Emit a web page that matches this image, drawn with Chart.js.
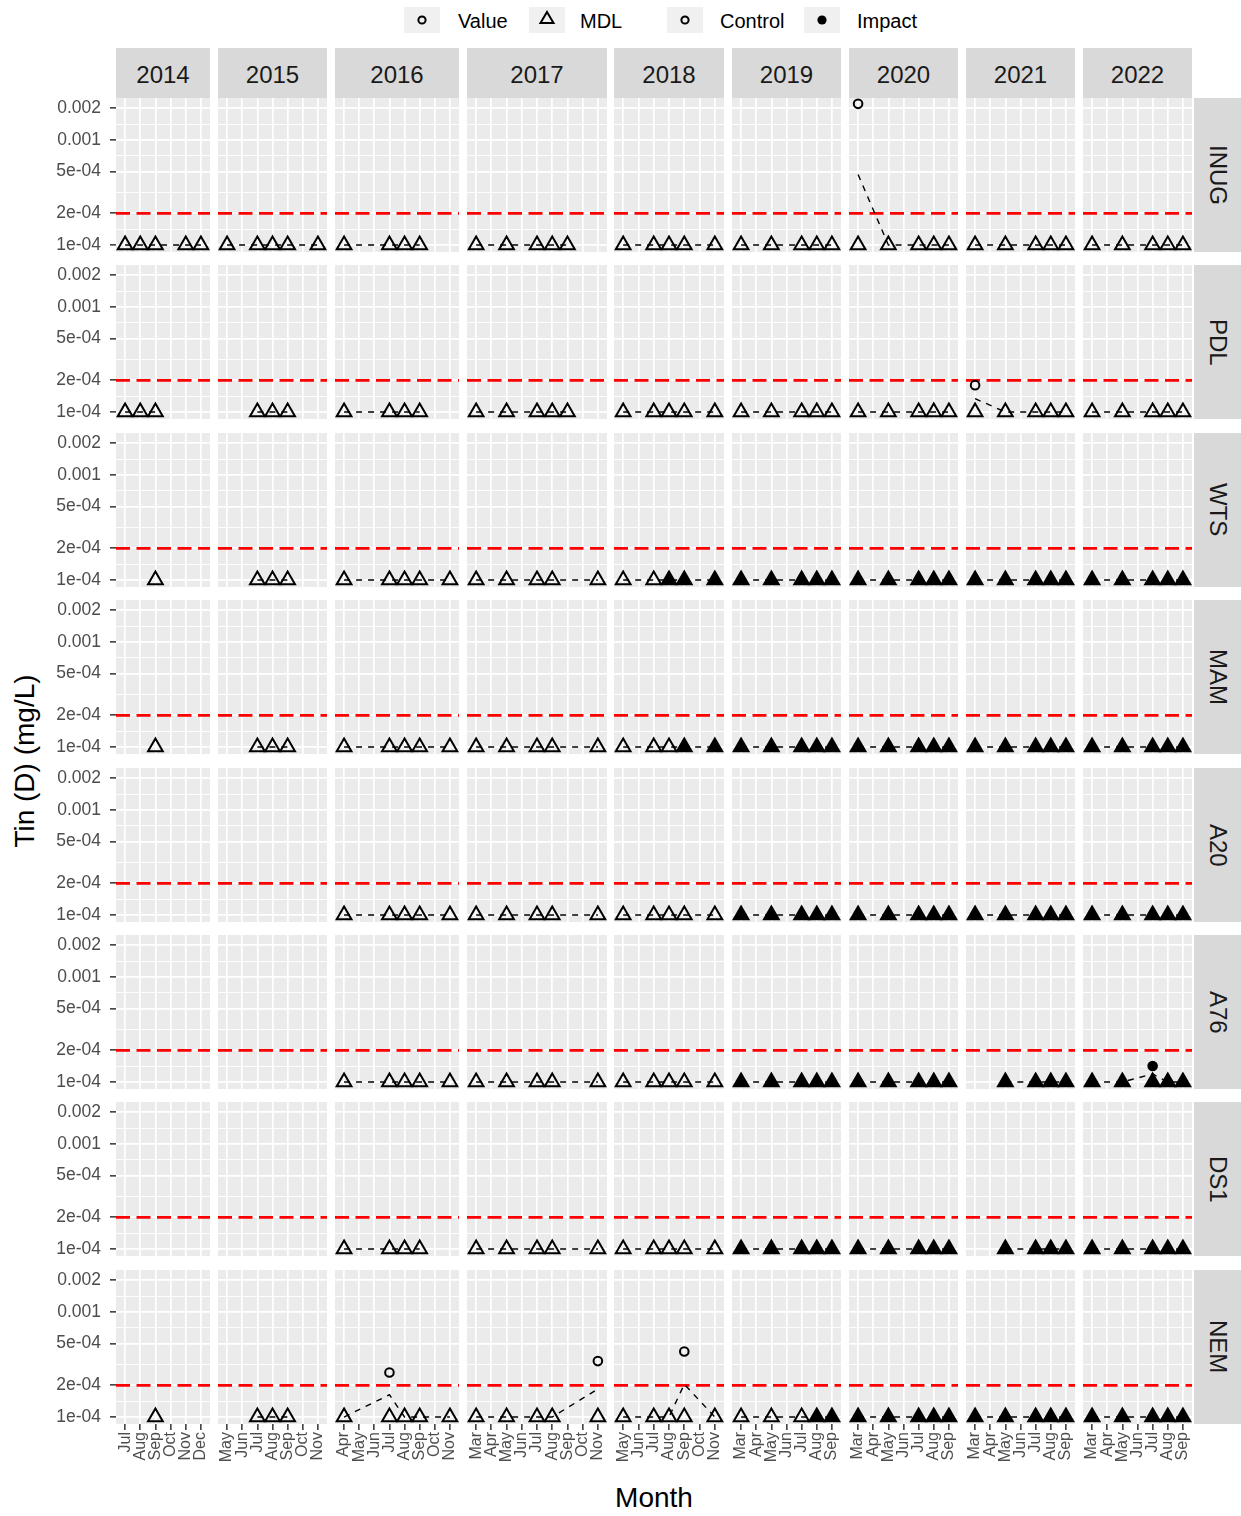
<!DOCTYPE html>
<html>
<head>
<meta charset="utf-8">
<title>Tin (D) by station and year</title>
<script src="https://cdn.jsdelivr.net/npm/chart.js@4.4.1/dist/chart.umd.min.js"></script>
<style>
  html, body { margin: 0; background: #fff; }
  #fig { position: relative; width: 1241px; height: 1516px; overflow: hidden; font-family: "Liberation Sans", Arial, sans-serif; }
  #fig canvas { position: absolute; }
  .strip { position: absolute; box-sizing: border-box; background: #d9d9d9; color: #1a1a1a; font-size: 24px; display: flex; align-items: center; justify-content: center; }
  .strip.top { padding-top: 4px; }
  .strip.side span { writing-mode: vertical-rl; }
  .key { position: absolute; top: 7px; width: 36px; height: 26px; background: #f0f0f0; }
  .key svg { display: block; }
  .ltxt { position: absolute; top: 9px; font-size: 20px; line-height: 24px; color: #000; }
  .title { position: absolute; font-size: 28px; color: #000; white-space: nowrap; transform: translate(-50%, -50%); }
</style>
</head>
<body>
<div id="fig">
  <div class="key" style="left:404px"><svg width="36" height="26"><circle cx="18" cy="13" r="3.6" fill="none" stroke="#000" stroke-width="2"/></svg></div>
  <div class="ltxt" style="left:458px">Value</div>
  <div class="key" style="left:529px"><svg width="36" height="26"><polygon points="18,5 24.5,16 11.5,16" fill="none" stroke="#000" stroke-width="2"/></svg></div>
  <div class="ltxt" style="left:580px">MDL</div>
  <div class="key" style="left:667px"><svg width="36" height="26"><circle cx="18" cy="13" r="3.6" fill="none" stroke="#000" stroke-width="2"/></svg></div>
  <div class="ltxt" style="left:720px">Control</div>
  <div class="key" style="left:804px"><svg width="36" height="26"><circle cx="18" cy="13" r="4.6" fill="#000"/></svg></div>
  <div class="ltxt" style="left:857px">Impact</div>
  <div class="title" style="left:25px;top:761px;transform:translate(-50%,-50%) rotate(-90deg)">Tin (D) (mg/L)</div>
  <div class="title" style="left:654px;top:1498px">Month</div>
</div>
<script>
// facets
var YEARS = ["2014", "2015", "2016", "2017", "2018", "2019", "2020", "2021", "2022"];
var MONTHS = [
  ["Jul", "Aug", "Sep", "Oct", "Nov", "Dec"],
  ["May", "Jun", "Jul", "Aug", "Sep", "Oct", "Nov"],
  ["Apr", "May", "Jun", "Jul", "Aug", "Sep", "Oct", "Nov"],
  ["Mar", "Apr", "May", "Jun", "Jul", "Aug", "Sep", "Oct", "Nov"],
  ["May", "Jun", "Jul", "Aug", "Sep", "Oct", "Nov"],
  ["Mar", "Apr", "May", "Jun", "Jul", "Aug", "Sep"],
  ["Mar", "Apr", "May", "Jun", "Jul", "Aug", "Sep"],
  ["Mar", "Apr", "May", "Jun", "Jul", "Aug", "Sep"],
  ["Mar", "Apr", "May", "Jun", "Jul", "Aug", "Sep"]
];
var STATIONS = ["INUG", "PDL", "WTS", "MAM", "A20", "A76", "DS1", "NEM"];

var MDL_VALUE = 1e-4;   // results below detection plotted at the MDL
var GUIDELINE = 2e-4;   // red dashed line
var YTICKS = [1e-4, 2e-4, 5e-4, 1e-3, 2e-3];
var YLABELS = ["1e-04", "2e-04", "5e-04", "0.001", "0.002"];

// months with a result < MDL, one string per year (2014..2022); "*" = impact period
var INUG = ["Jul Aug Sep Nov Dec", "May Jul Aug Sep Nov", "Apr Jul Aug Sep", "Mar May Jul Aug Sep", "May Jul Aug Sep Nov",
  "Mar May Jul Aug Sep", "Mar May Jul Aug Sep", "Mar May Jul Aug Sep", "Mar May Jul Aug Sep"];
var PDL = ["Jul Aug Sep", "Jul Aug Sep", "Apr Jul Aug Sep", "Mar May Jul Aug Sep", "May Jul Aug Sep Nov",
  "Mar May Jul Aug Sep", "Mar May Jul Aug Sep", "Mar May Jul Aug Sep", "Mar May Jul Aug Sep"];
var WTS = ["Sep", "Jul Aug Sep", "Apr Jul Aug Sep Nov", "Mar May Jul Aug Nov", "May Jul Aug* Sep* Nov*",
  "Mar* May* Jul* Aug* Sep*", "Mar* May* Jul* Aug* Sep*", "Mar* May* Jul* Aug* Sep*", "Mar* May* Jul* Aug* Sep*"];
var MAM = ["Sep", "Jul Aug Sep", "Apr Jul Aug Sep Nov", "Mar May Jul Aug Nov", "May Jul Aug Sep* Nov*",
  "Mar* May* Jul* Aug* Sep*", "Mar* May* Jul* Aug* Sep*", "Mar* May* Jul* Aug* Sep*", "Mar* May* Jul* Aug* Sep*"];
var A20 = ["", "", "Apr Jul Aug Sep Nov", "Mar May Jul Aug Nov", "May Jul Aug Sep Nov",
  "Mar* May* Jul* Aug* Sep*", "Mar* May* Jul* Aug* Sep*", "Mar* May* Jul* Aug* Sep*", "Mar* May* Jul* Aug* Sep*"];
var A76 = ["", "", "Apr Jul Aug Sep Nov", "Mar May Jul Aug Nov", "May Jul Aug Sep Nov",
  "Mar* May* Jul* Aug* Sep*", "Mar* May* Jul* Aug* Sep*", "May* Jul* Aug* Sep*", "Mar* May* Jul* Aug* Sep*"];
var DS1 = ["", "", "Apr Jul Aug Sep", "Mar May Jul Aug Nov", "May Jul Aug Sep Nov",
  "Mar* May* Jul* Aug* Sep*", "Mar* May* Jul* Aug* Sep*", "May* Jul* Aug* Sep*", "Mar* May* Jul* Aug* Sep*"];
var NEM = ["Sep", "Jul Aug Sep", "Apr Jul Aug Sep Nov", "Mar May Jul Aug Nov", "May Jul Aug Sep Nov",
  "Mar May Jul Aug* Sep*", "Mar* May* Jul* Aug* Sep*", "Mar* May* Jul* Aug* Sep*", "Mar* May* Jul* Aug* Sep*"];
var SITE_MDL = [INUG, PDL, WTS, MAM, A20, A76, DS1, NEM];

// detected values: station, year, month, mg/L, group
var DETECTS = [
  ["INUG", "2020", "Mar", 0.0022, "Control"],
  ["PDL", "2021", "Mar", 1.8e-4, "Control"],
  ["A76", "2022", "Jul", 1.42e-4, "Impact"],
  ["NEM", "2016", "Jul", 2.65e-4, "Control"],
  ["NEM", "2017", "Nov", 3.4e-4, "Control"],
  ["NEM", "2018", "Sep", 4.2e-4, "Control"]
];

(function () {
  var fig = document.getElementById("fig");
  Chart.defaults.font.family = '"Liberation Sans", Arial, sans-serif';

  // layout (px)
  var X0 = 116, X1 = 1192, G = 7.6, Y0 = 98, PITCH = 167.4, PH = 154;
  var AXIS_W = 66, AXIS_H = 78;
  var YMIN = 8.58e-5, YMAX = 2.5e-3;

  // minor breaks halfway between majors on the log scale
  var YGRID = YTICKS.slice();
  for (var i = 0; i < YTICKS.length - 1; i++) YGRID.push(Math.sqrt(YTICKS[i] * YTICKS[i + 1]));
  function isMajor(v) { return YTICKS.indexOf(v) >= 0; }

  var units = 0;
  MONTHS.forEach(function (m) { units += m.length + 0.2; });
  var U = (X1 - X0 - G * (YEARS.length - 1)) / units;
  var colX = [], colW = [], x = X0;
  MONTHS.forEach(function (m) { colX.push(x); colW.push((m.length + 0.2) * U); x += (m.length + 0.2) * U + G; });

  function div(cls, css, text) {
    var d = document.createElement("div");
    d.className = cls;
    d.style.cssText = css;
    if (text) d.innerHTML = "<span>" + text + "</span>";
    fig.appendChild(d);
    return d;
  }

  // strips
  YEARS.forEach(function (y, c) {
    var l = Math.round(colX[c]), w = Math.round(colX[c] + colW[c]) - l;
    div("strip top", "left:" + l + "px;top:48px;width:" + w + "px;height:50px", y);
  });
  STATIONS.forEach(function (s, r) {
    div("strip side", "left:1194px;top:" + Math.round(Y0 + r * PITCH) + "px;width:47px;height:" + PH + "px", s);
  });

  function samplesFor(r, c) {
    var months = MONTHS[c], out = [];
    SITE_MDL[r][c].split(" ").forEach(function (tok) {
      if (!tok) return;
      out.push({ x: months.indexOf(tok.replace("*", "")), y: MDL_VALUE, kind: "MDL", impact: tok.slice(-1) === "*" });
    });
    DETECTS.forEach(function (d) {
      if (d[0] === STATIONS[r] && d[1] === YEARS[c])
        out.push({ x: months.indexOf(d[2]), y: d[3], kind: "Value", impact: d[4] === "Impact" });
    });
    return out;
  }

  // monthly mean on the log scale (as stat_summary on a log10 axis)
  function meanLine(pts) {
    var by = {};
    pts.forEach(function (p) { (by[p.x] = by[p.x] || []).push(Math.log10(p.y)); });
    return Object.keys(by).map(Number).sort(function (a, b) { return a - b; }).map(function (k) {
      var s = 0; by[k].forEach(function (v) { s += v; });
      return { x: k, y: Math.pow(10, s / by[k].length) };
    });
  }

  var panelBg = {
    id: "panelBg",
    beforeDraw: function (ch) {
      var a = ch.chartArea, ctx = ch.ctx;
      ctx.save(); ctx.fillStyle = "#ebebeb";
      ctx.fillRect(a.left, a.top, a.right - a.left, a.bottom - a.top);
      ctx.restore();
    }
  };
  var guide = {
    id: "guide",
    beforeDatasetsDraw: function (ch) {
      var a = ch.chartArea, ctx = ch.ctx, y = ch.scales.y.getPixelForValue(GUIDELINE);
      ctx.save(); ctx.strokeStyle = "#ff0000"; ctx.lineWidth = 2.6; ctx.setLineDash([14, 6.5]);
      ctx.beginPath(); ctx.moveTo(a.left, y); ctx.lineTo(a.right, y); ctx.stroke();
      ctx.restore();
    }
  };

  function makePanel(r, c) {
    var left = c === 0, bottom = r === STATIONS.length - 1, months = MONTHS[c];
    var px = Math.round(colX[c]), pw = Math.round(colX[c] + colW[c]) - px;
    var py = Math.round(Y0 + r * PITCH);
    var cw = pw + (left ? AXIS_W : 0), chh = PH + (bottom ? AXIS_H : 0);
    var cv = document.createElement("canvas");
    cv.width = cw; cv.height = chh;
    cv.style.left = (px - (left ? AXIS_W : 0)) + "px";
    cv.style.top = py + "px";
    cv.style.width = cw + "px"; cv.style.height = chh + "px";
    fig.appendChild(cv);

    var pts = samplesFor(r, c);
    new Chart(cv, {
      type: "scatter",
      data: {
        datasets: [{
          data: pts.map(function (p) { return { x: p.x, y: p.y }; }),
          pointStyle: pts.map(function (p) { return p.kind === "MDL" ? "triangle" : "circle"; }),
          pointRadius: pts.map(function (p) { return p.kind === "MDL" ? 8.5 : 4.3; }),
          pointBackgroundColor: pts.map(function (p) { return p.impact ? "#000" : "rgba(0,0,0,0)"; }),
          pointBorderColor: "#000", pointBorderWidth: 2, clip: false, order: 0
        }, {
          data: meanLine(pts), showLine: true, borderColor: "#000", borderWidth: 1.4,
          borderDash: [6, 6], pointRadius: 0, clip: false, order: 1
        }]
      },
      options: {
        responsive: false, animation: false, events: [],
        layout: { padding: 0, autoPadding: false },
        plugins: { legend: { display: false }, tooltip: { enabled: false } },
        scales: {
          x: {
            type: "linear", min: -0.6, max: months.length - 0.4, bounds: "data",
            afterBuildTicks: function (s) { s.ticks = months.map(function (m, i) { return { value: i }; }); },
            afterFit: function (s) { s.height = bottom ? AXIS_H : 0; s.paddingLeft = 0; s.paddingRight = 0; s.paddingTop = 0; s.paddingBottom = 0; },
            border: { display: false },
            grid: { color: "#fff", lineWidth: 1.7, drawTicks: bottom, tickLength: 6, tickWidth: 1.5, tickColor: "#333" },
            ticks: {
              display: bottom, autoSkip: false, maxRotation: 90, minRotation: 90, padding: 2,
              color: "#4d4d4d", font: { size: 16 },
              callback: function (v) { return months[v]; }
            }
          },
          y: {
            type: "logarithmic", min: YMIN, max: YMAX, bounds: "data",
            afterBuildTicks: function (s) { s.ticks = YGRID.map(function (v) { return { value: v }; }); },
            afterFit: function (s) { s.width = left ? AXIS_W : 0; s.paddingTop = 0; s.paddingBottom = 0; s.paddingLeft = 0; s.paddingRight = 0; },
            border: { display: false },
            grid: {
              color: "#fff",
              lineWidth: function (ctx) { return isMajor(ctx.tick.value) ? 1.7 : 0.9; },
              drawTicks: left, tickLength: 6, tickWidth: 1.5,
              tickColor: function (ctx) { return isMajor(ctx.tick.value) ? "#333" : "rgba(0,0,0,0)"; }
            },
            ticks: {
              display: left, autoSkip: false, padding: 9, color: "#4d4d4d", font: { size: 17.5 },
              callback: function (v) { var k = YTICKS.indexOf(v); return k < 0 ? "" : YLABELS[k]; }
            }
          }
        }
      },
      plugins: [panelBg, guide]
    });
  }

  for (var r = 0; r < STATIONS.length; r++)
    for (var c = 0; c < YEARS.length; c++) makePanel(r, c);
})();
</script>
</body>
</html>
